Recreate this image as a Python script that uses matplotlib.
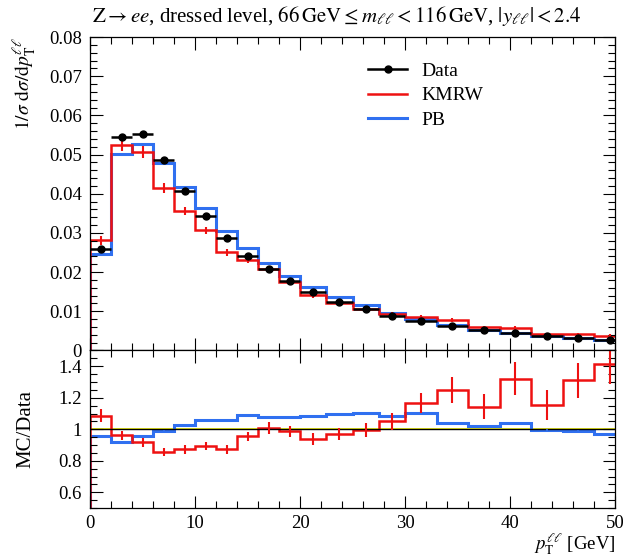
import numpy as np
import matplotlib
matplotlib.use("Agg")
import matplotlib.pyplot as plt
from matplotlib.ticker import MultipleLocator, FuncFormatter
from matplotlib.lines import Line2D

plt.rcParams["font.family"] = ["Liberation Serif", "DejaVu Serif"]
plt.rcParams["mathtext.fontset"] = "stix"

# pT bin edges [GeV]
edges = [0, 2, 4, 6, 8, 10, 12, 14, 16, 18, 20, 22.5, 25, 27.5, 30, 33, 36, 39, 42, 45, 48, 51]

# normalised cross section (data)
data = [0.0259, 0.0546, 0.0552, 0.0485, 0.0408, 0.0344, 0.0287, 0.0241, 0.0207, 0.0178,
        0.0150, 0.0125, 0.0105, 0.0088, 0.0074, 0.0063, 0.0052, 0.0044, 0.0036, 0.0032, 0.0027]
data_relerr = [0.006] * 21

# MC / Data ratios
kmrw_ratio = [1.087, 0.962, 0.918, 0.855, 0.872, 0.893, 0.872, 0.955, 1.008, 0.987,
              0.939, 0.970, 0.997, 1.050, 1.169, 1.249, 1.144, 1.322, 1.154, 1.311, 1.412]
kmrw_relerr = [0.04, 0.03, 0.03, 0.03, 0.03, 0.03, 0.035, 0.03, 0.035, 0.035,
               0.04, 0.04, 0.045, 0.05, 0.055, 0.065, 0.07, 0.08, 0.08, 0.085, 0.09]
pb_ratio = [0.955, 0.918, 0.955, 0.987, 1.025, 1.056, 1.060, 1.090, 1.075, 1.075,
            1.081, 1.095, 1.102, 1.085, 1.102, 1.040, 1.023, 1.040, 0.998, 0.990, 0.970]
pb_relerr = [0.006] * 21

edges = np.array(edges)
data = np.array(data)
kmrw_ratio = np.array(kmrw_ratio)
pb_ratio = np.array(pb_ratio)
centers = 0.5 * (edges[1:] + edges[:-1])
halfw = 0.5 * (edges[1:] - edges[:-1])
kmrw = data * kmrw_ratio
pb = data * pb_ratio

red = "#ee1111"
blue = "#3070f0"

fig = plt.figure(figsize=(6.23, 5.59), dpi=100)
ax = fig.add_axes([0.1445, 0.373, 0.8427, 0.5608])
rax = fig.add_axes([0.1445, 0.0912, 0.8427, 0.2818])

# main panel
ax.stairs(pb, edges, color=blue, lw=2.2)
ax.stairs(kmrw, edges, color=red, lw=1.8)
ax.errorbar(centers, kmrw, yerr=kmrw * np.array(kmrw_relerr), fmt="none", ecolor=red, elinewidth=1.5)
ax.errorbar(centers, data, xerr=halfw, yerr=data * np.array(data_relerr), fmt="o", color="black",
            ms=5, elinewidth=1.8, capsize=0)

ax.set_xlim(0, 50)
ax.set_ylim(0, 0.08)
ax.yaxis.set_major_locator(MultipleLocator(0.01))
ax.yaxis.set_minor_locator(MultipleLocator(0.002))
ax.yaxis.set_major_formatter(FuncFormatter(lambda v, p: "0" if abs(v) < 1e-9 else "%.2f" % v))
ax.tick_params(labelbottom=False)

handles = [Line2D([], [], color="black", marker="o", ms=5, lw=1.8),
           Line2D([], [], color=red, lw=1.8),
           Line2D([], [], color=blue, lw=2.2)]
ax.legend(handles, ["Data", "KMRW", "PB"], loc="upper left", bbox_to_anchor=(0.497, 0.975),
          frameon=False, fontsize=14, handlelength=2.0, labelspacing=0.35, handletextpad=0.7)

ax.set_ylabel(r"$1/\sigma\ \mathrm{d}\sigma/\mathrm{d}p_\mathrm{T}^{\ell\ell}$", fontsize=14, ha="right")
ax.yaxis.set_label_coords(-0.10, 1.0)

# ratio panel
band = np.array(data_relerr)
rax.fill_between(edges, np.append(1 - band, 1 - band[-1]), np.append(1 + band, 1 + band[-1]),
                 step="post", color="#f0f020", lw=0)
rax.axhline(1, color="black", lw=1)
rax.stairs(pb_ratio, edges, color=blue, lw=2.2)
rax.errorbar(centers, pb_ratio, yerr=pb_ratio * np.array(pb_relerr), fmt="none", ecolor=blue, elinewidth=1.2)
rax.stairs(kmrw_ratio, edges, color=red, lw=1.8)
rax.errorbar(centers, kmrw_ratio, yerr=kmrw_ratio * np.array(kmrw_relerr), fmt="none", ecolor=red, elinewidth=1.5)

rax.set_xlim(0, 50)
rax.set_ylim(0.5, 1.5)
rax.yaxis.set_major_locator(MultipleLocator(0.2))
rax.yaxis.set_minor_locator(MultipleLocator(0.05))
rax.yaxis.set_major_formatter(FuncFormatter(lambda v, p: "%g" % round(v, 2)))
rax.set_ylabel("MC/Data", fontsize=15)
rax.yaxis.set_label_coords(-0.105, 0.5)
rax.set_xlabel(r"$p_\mathrm{T}^{\ell\ell}$ [GeV]", fontsize=13.5, ha="right")
rax.xaxis.set_label_coords(1.0, -0.148)

for a in (ax, rax):
    a.xaxis.set_major_locator(MultipleLocator(10))
    a.xaxis.set_minor_locator(MultipleLocator(2))
    a.tick_params(which="both", direction="in", top=True, right=True, labelsize=13.5)
    a.tick_params(which="major", length=9, width=0.8)
    a.tick_params(which="minor", length=5, width=0.8)
    a.tick_params(axis="y", pad=6)
    a.tick_params(axis="x", pad=5)
    for s in a.spines.values():
        s.set_linewidth(0.9)

fig.text(0.148, 0.993, r"$\mathrm{Z} \rightarrow ee$, dressed level, $66\,\mathrm{GeV} \leq m_{\ell\ell} < 116\,\mathrm{GeV}$, $|y_{\ell\ell}| < 2.4$",
         fontsize=15, ha="left", va="top")

fig.savefig("out.png", dpi=100)
